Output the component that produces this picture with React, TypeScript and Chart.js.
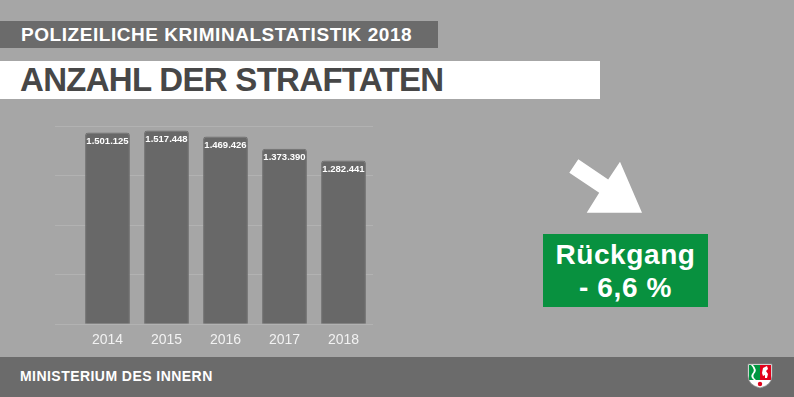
import React, { useEffect, useRef } from "react";
import { Chart, registerables } from "chart.js";

Chart.register(...registerables);

const years = ["2014", "2015", "2016", "2017", "2018"];
const offences = [1501125, 1517448, 1469426, 1373390, 1282441];
const yMax = 1552000;
const yStep = 388000;
const subtitle = "POLIZEILICHE KRIMINALSTATISTIK 2018";
const title = "ANZAHL DER STRAFTATEN";
const badgeLine1 = "Rückgang";
const badgeLine2 = "- 6,6 %";
const footerText = "MINISTERIUM DES INNERN";

const FONT = "'Liberation Sans', Arial, sans-serif";

function formatDE(v: number): string {
  const s = Math.round(v).toString();
  let out = "";
  for (let i = 0; i < s.length; i++) {
    const fromEnd = s.length - i;
    out += s[i];
    if (fromEnd > 1 && (fromEnd - 1) % 3 === 0) out += ".";
  }
  return out;
}

const valueLabels = {
  id: "valueLabels",
  afterDatasetsDraw(chart: any) {
    const ctx = chart.ctx;
    const meta = chart.getDatasetMeta(0);
    const data = chart.data.datasets[0].data as number[];
    ctx.save();
    ctx.fillStyle = "#ffffff";
    ctx.font = `bold 9.5px ${FONT}`;
    ctx.textAlign = "center";
    ctx.textBaseline = "middle";
    meta.data.forEach((bar: any, i: number) => {
      ctx.fillText(formatDE(data[i]), bar.x, bar.y + 9);
    });
    ctx.restore();
  },
};

function BarChart() {
  const ref = useRef<HTMLCanvasElement | null>(null);
  useEffect(() => {
    if (!ref.current) return;
    const chart = new Chart(ref.current, {
      type: "bar",
      data: {
        labels: years,
        datasets: [
          {
            data: offences,
            backgroundColor: "#686868",
            borderColor: "#727272",
            borderWidth: 1,
            borderRadius: { topLeft: 3, topRight: 3, bottomLeft: 0, bottomRight: 0 },
            borderSkipped: "bottom",
            barPercentage: 0.76,
            categoryPercentage: 1,
          },
        ],
      },
      options: {
        animation: false,
        responsive: false,
        maintainAspectRatio: false,
        layout: { padding: { left: 55, right: 27, top: 16, bottom: 3 } },
        plugins: { legend: { display: false }, tooltip: { enabled: false } },
        scales: {
          x: {
            grid: { display: false, drawTicks: false },
            border: { display: false },
            ticks: {
              color: "#f2f2f2",
              font: { family: FONT, size: 14 },
              padding: 8,
            },
          },
          y: {
            min: 0,
            max: yMax,
            grid: { color: "#b2b2b2", lineWidth: 1, tickLength: 23, drawTicks: true },
            border: { display: false },
            ticks: { display: false, stepSize: yStep },
          },
        },
      },
      plugins: [valueLabels],
    } as any);
    return () => chart.destroy();
  }, []);
  return (
    <canvas
      ref={ref}
      width={400}
      height={250}
      style={{ position: "absolute", left: 0, top: 110, width: 400, height: 250 }}
    />
  );
}

export default function App() {
  return (
    <div
      style={{
        position: "fixed",
        left: 0,
        top: 0,
        width: 794,
        height: 397,
        background: "#a6a6a6",
        overflow: "hidden",
        fontFamily: FONT,
      }}
    >
      <div
        style={{
          position: "absolute",
          left: 0,
          top: 21,
          width: 438,
          height: 27,
          background: "#6b6b6b",
          color: "#ffffff",
          fontWeight: "bold",
          fontSize: 19,
          lineHeight: "27px",
          letterSpacing: "0.55px",
          paddingLeft: 21,
          boxSizing: "border-box",
          whiteSpace: "nowrap",
        }}
      >
        {subtitle}
      </div>
      <div
        style={{
          position: "absolute",
          left: 0,
          top: 61,
          width: 600,
          height: 38,
          background: "#ffffff",
          color: "#474747",
          fontWeight: "bold",
          fontSize: 33,
          lineHeight: "38px",
          letterSpacing: "-0.7px",
          paddingLeft: 20,
          boxSizing: "border-box",
          whiteSpace: "nowrap",
        }}
      >
        {title}
      </div>

      <BarChart />

      <div
        style={{
          position: "absolute",
          left: 0,
          top: 357,
          width: 794,
          height: 40,
          background: "#6b6b6b",
        }}
      />
      <div
        style={{
          position: "absolute",
          left: 20,
          top: 368,
          color: "#ffffff",
          fontWeight: "bold",
          fontSize: 14,
          lineHeight: "16px",
          letterSpacing: "0.45px",
          whiteSpace: "nowrap",
        }}
      >
        {footerText}
      </div>

      <div
        style={{
          position: "absolute",
          left: 543,
          top: 234,
          width: 165,
          height: 73,
          background: "#08913f",
          color: "#ffffff",
          fontWeight: "bold",
          fontSize: 28,
          lineHeight: "33px",
          letterSpacing: "0.6px",
          textAlign: "center",
          paddingTop: 4,
          boxSizing: "border-box",
          whiteSpace: "nowrap",
        }}
      >
        <div>{badgeLine1}</div>
        <div>{badgeLine2}</div>
      </div>

      <svg
        style={{ position: "absolute", left: 0, top: 0 }}
        width={794}
        height={397}
      >
        <polygon
          points="578.3,159.3 608.2,179.4 620,161.7 642,212.7 586.7,212.7 599.2,192.7 569.3,172.7"
          fill="#ffffff"
        />
        <g transform="translate(748,364)">
          <path d="M0,0 H24 V12 Q24,21 12,24 Q0,21 0,12 Z" fill="#ffffff" />
          <path d="M1,1 H12 V16 H1 Z" fill="#009640" />
          <path d="M12,1 H23 V16 H12 Z" fill="#e2001a" />
          <path d="M3,1 Q8,6 4,10 Q2,13 6,16 L8,16 Q4,13 6,10 Q10,6 5,1 Z" fill="#ffffff" />
          <path d="M15,4 L19,2 L20,5 L18,7 L20,10 L19,14 L17,14 L17,11 L15,12 L14,9 Z" fill="#ffffff" />
          <circle cx="12" cy="20" r="2.2" fill="#e2001a" />
          <path d="M0,0 H24 V12 Q24,21 12,24 Q0,21 0,12 Z" fill="none" stroke="#8a8a8a" strokeWidth="0.8" />
        </g>
      </svg>
    </div>
  );
}
